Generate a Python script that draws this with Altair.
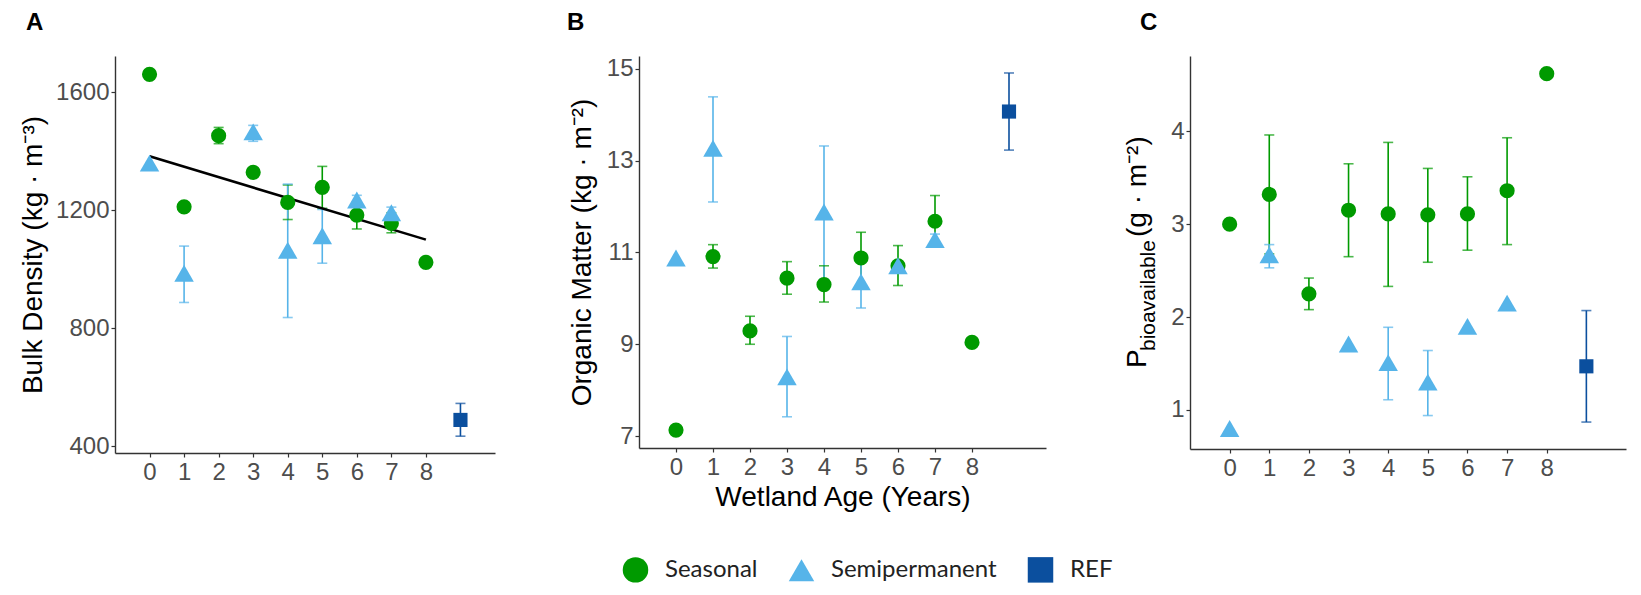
import altair as alt
import pandas as pd

# ---------------- data ----------------
AGES = [0, 1, 2, 3, 4, 5, 6, 7, 8]
SEMI_AGES = [0, 1, 3, 4, 5, 6, 7]
REF_AGE = [9]
TYPES = ["Seasonal", "Semipermanent", "REF"]
COLORS = ["#009a00", "#56b4e9", "#0b4f9e"]
SHAPES = ["circle", "triangle-up", "square"]
POINT_SIZES = [230, 380, 200]
X_TICKS = [0, 1, 2, 3, 4, 5, 6, 7, 8]

# Panel A: bulk density (kg m-3)
BD_SEAS = [1660, 1211, 1452, 1328, 1226, 1277, 1183, 1155, 1023]
BD_SEAS_LO = [None, 1195, 1425, None, 1168, 1206, 1136, 1123, None]
BD_SEAS_HI = [None, 1224, 1480, None, 1285, 1348, 1228, 1191, None]
BD_SEMI = [1359, 986, 1465, 1064, 1113, 1234, 1191]
BD_SEMI_LO = [None, 887, 1433, 836, 1020, 1220, 1172]
BD_SEMI_HI = [None, 1078, 1487, 1288, 1202, 1250, 1210]
BD_REF, BD_REF_LO, BD_REF_HI = [489], [434], [545]

# Panel B: organic matter (kg m-2)
OM_SEAS = [7.13, 10.91, 9.29, 10.44, 10.30, 10.88, 10.71, 11.68, 9.04]
OM_SEAS_LO = [None, 10.66, 9.00, 10.09, 9.92, 10.31, 10.28, 11.15, None]
OM_SEAS_HI = [None, 11.17, 9.61, 10.80, 10.71, 11.44, 11.15, 12.24, None]
OM_SEMI = [10.88, 13.27, 8.29, 11.88, 10.36, 10.71, 11.28]
OM_SEMI_LO = [None, 12.10, 7.42, 10.42, 9.79, 10.60, 11.15]
OM_SEMI_HI = [None, 14.39, 9.17, 13.32, 10.82, 10.80, 11.40]
OM_REF, OM_REF_LO, OM_REF_HI = [14.07], [13.23], [14.91]

# Panel C: bioavailable P (g m-2)
P_SEAS = [3.00, 3.32, 2.25, 3.15, 3.11, 3.10, 3.11, 3.36, 4.62]
P_SEAS_LO = [None, 2.68, 2.08, 2.65, 2.33, 2.59, 2.72, 2.78, None]
P_SEAS_HI = [None, 3.96, 2.42, 3.65, 3.88, 3.60, 3.51, 3.93, None]
P_SEMI = [0.80, 2.67, 1.71, 1.51, 1.30, 1.90, 2.15]
P_SEMI_LO = [None, 2.53, None, 1.11, 0.94, None, None]
P_SEMI_HI = [None, 2.78, None, 1.89, 1.64, None, None]
P_REF, P_REF_LO, P_REF_HI = [1.47], [0.87], [2.07]

TITLE_A = "Bulk Density (kg \u00b7 m\u207b\u00b3)"
TITLE_B = "Organic Matter (kg \u00b7 m\u207b\u00b2)"
TITLE_X = "Wetland Age (Years)"
C_TITLE_PARTS = ["P", "bioavailable", "(g \u00b7 m\u207b\u00b2)"]

FONT = "Liberation Sans"


def make_df(seas, seas_lo, seas_hi, semi, semi_lo, semi_hi, ref, ref_lo, ref_hi):
    rows = []
    for a, v, lo, hi in zip(AGES, seas, seas_lo, seas_hi):
        rows.append(dict(type="Seasonal", age=a, value=v, lo=lo, hi=hi))
    for a, v, lo, hi in zip(SEMI_AGES, semi, semi_lo, semi_hi):
        rows.append(dict(type="Semipermanent", age=a, value=v, lo=lo, hi=hi))
    for a, v, lo, hi in zip(REF_AGE, ref, ref_lo, ref_hi):
        rows.append(dict(type="REF", age=a, value=v, lo=lo, hi=hi))
    return pd.DataFrame(rows)


# legend drawn inside panel B, positioned relative to B's plot origin
legend_def = alt.Legend(
    orient="none", legendX=-17, legendY=500, direction="horizontal", title=None,
    symbolSize=650, labelFontSize=24, labelFont="Lato", labelColor="#222222",
    labelOffset=16, columnPadding=30, padding=0, labelLimit=400,
)
stroke_enc = alt.Stroke("type:N", scale=alt.Scale(domain=TYPES, range=COLORS), legend=None)
fill_enc = alt.Fill("type:N", scale=alt.Scale(domain=TYPES, range=COLORS), legend=None)


def panel(df, ydom, yticks, ytitle, title_x, xtitle, w, h, label, label_dx,
          show_legend=False, regression=False, extra=None):
    leg = legend_def if show_legend else None
    color_enc = alt.Color("type:N", scale=alt.Scale(domain=TYPES, range=COLORS), legend=leg)
    shape_enc = alt.Shape("type:N", scale=alt.Scale(domain=TYPES, range=SHAPES), legend=leg)
    xenc = alt.X("age:Q", scale=alt.Scale(domain=[-1, 10], nice=False, zero=False),
                 axis=alt.Axis(values=X_TICKS, format="d", title=xtitle,
                               titleY=57, titleBaseline="alphabetic"))
    yaxis = alt.Axis(values=yticks, format="d", title=ytitle, titleX=title_x,
                     titleBaseline="alphabetic", titleAngle=270)
    yscale = alt.Scale(domain=ydom, nice=False, zero=False)

    base = alt.Chart(df)
    err = df.dropna(subset=["lo"])
    ebase = alt.Chart(err)
    rules = ebase.mark_rule(strokeWidth=1.6).encode(
        x=xenc, y=alt.Y("lo:Q", scale=yscale, axis=yaxis), y2="hi:Q", stroke=stroke_enc)
    caps = ebase.transform_fold(["lo", "hi"], as_=["end", "yv"]).mark_tick(
        orient="horizontal", size=10, thickness=1.6, filled=True).encode(
        x=xenc, y=alt.Y("yv:Q", scale=yscale, axis=yaxis), fill=fill_enc)
    layers = [rules, caps]
    if regression:
        reg = base.transform_filter(alt.datum.type != "REF").transform_regression(
            "age", "value", extent=[0, 8]).mark_line(color="black", strokeWidth=2.6).encode(
            x=xenc, y=alt.Y("value:Q", scale=yscale, axis=yaxis))
        layers.append(reg)
    for t, s in zip(TYPES, POINT_SIZES):
        layers.append(
            base.transform_filter(alt.datum.type == t).mark_point(
                filled=True, opacity=1, size=s, strokeWidth=0).encode(
                x=xenc, y=alt.Y("value:Q", scale=yscale, axis=yaxis),
                color=color_enc, shape=shape_enc)
        )
    if extra:
        layers.extend(extra)
    return alt.layer(*layers).properties(
        width=w, height=h,
        title=alt.TitleParams(label, anchor="start", frame="group", dx=label_dx, offset=21,
                              fontSize=24, fontWeight="bold", font=FONT, color="black"),
    )


dfA = make_df(BD_SEAS, BD_SEAS_LO, BD_SEAS_HI, BD_SEMI, BD_SEMI_LO, BD_SEMI_HI, BD_REF, BD_REF_LO, BD_REF_HI)
dfB = make_df(OM_SEAS, OM_SEAS_LO, OM_SEAS_HI, OM_SEMI, OM_SEMI_LO, OM_SEMI_HI, OM_REF, OM_REF_LO, OM_REF_HI)
dfC = make_df(P_SEAS, P_SEAS_LO, P_SEAS_HI, P_SEMI, P_SEMI_LO, P_SEMI_HI, P_REF, P_REF_LO, P_REF_HI)

# manual y title for panel C (with subscript)
c_title = [
    alt.Chart(pd.DataFrame({"t": [C_TITLE_PARTS[0]]})).mark_text(
        angle=270, align="left", baseline="alphabetic", font=FONT, fontSize=28, color="black"
    ).encode(text="t:N", x=alt.value(-44), y=alt.value(312)),
    alt.Chart(pd.DataFrame({"t": [C_TITLE_PARTS[1]]})).mark_text(
        angle=270, align="left", baseline="alphabetic", font=FONT, fontSize=21, color="black"
    ).encode(text="t:N", x=alt.value(-35), y=alt.value(295)),
    alt.Chart(pd.DataFrame({"t": [C_TITLE_PARTS[2]]})).mark_text(
        angle=270, align="left", baseline="alphabetic", font=FONT, fontSize=28, color="black"
    ).encode(text="t:N", x=alt.value(-44), y=alt.value(181)),
]

pA = panel(dfA, [377, 1722], [400, 800, 1200, 1600], TITLE_A, -74, None, 380, 397, "A", -89,
           regression=True)
pB = panel(dfB, [6.74, 15.28], [7, 9, 11, 13, 15], TITLE_B, -49, TITLE_X, 407, 392, "B", -72,
           show_legend=True)
pC = panel(dfC, [0.58, 4.81], [1, 2, 3, 4], None, -40, None, 436, 393, "C", -50, extra=c_title)

# "flush" bounds: spacing is measured between plot areas only
chart = alt.hconcat(pA, pB, pC, spacing=144, bounds="flush").resolve_scale(
    color="shared", shape="shared", x="independent", y="independent"
).resolve_legend(color="independent", shape="independent").properties(
    padding={"left": 11, "top": 3, "right": 5, "bottom": 0},
    background="white",
).configure_view(stroke=None).configure_axis(
    grid=False, domainColor="#333333", domainWidth=1.4, tickColor="#333333", tickSize=4,
    tickWidth=1.2, labelFont=FONT, labelFontSize=24, labelColor="#4d4d4d", labelPadding=2,
    titleFont=FONT, titleFontSize=28, titleFontWeight="normal", titleColor="black",
).configure_axisX(labelPadding=3)

chart.save("out.html", embed_options={"renderer": "svg", "actions": False})
